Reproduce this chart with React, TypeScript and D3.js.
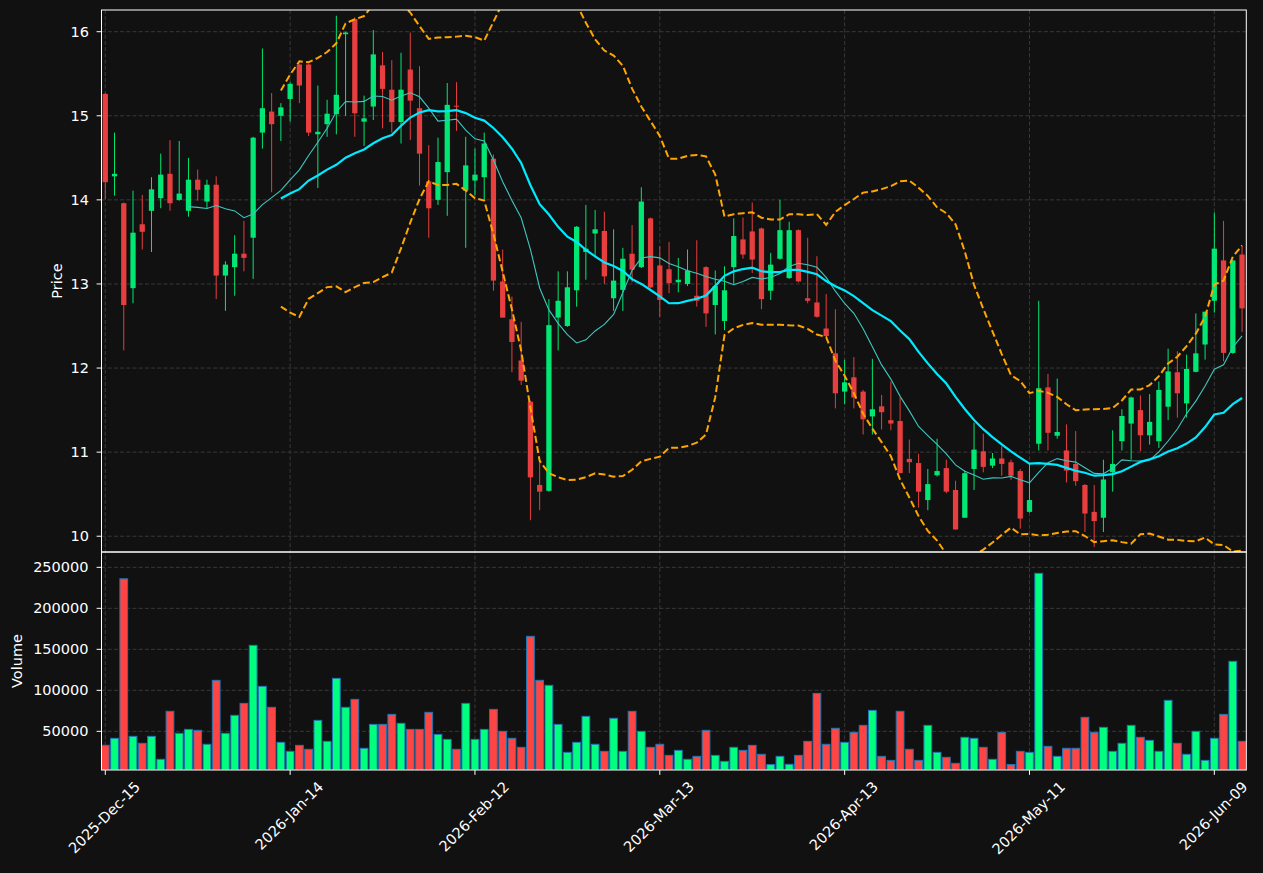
import React from 'react';
import * as d3 from 'd3';

const opens = [15.26,14.28,13.96,12.95,13.71,13.87,14.02,14.31,14.00,13.87,14.24,13.98,14.18,13.10,13.20,13.36,13.55,14.80,15.05,15.00,
15.20,15.61,15.61,14.78,14.90,15.02,15.97,16.15,14.93,15.11,15.60,15.31,14.925,15.55,15.09,14.22,14.00,14.33,15.12,14.11,
14.23,14.27,14.49,13.03,12.58,12.09,11.60,10.61,10.54,12.60,12.50,12.925,13.38,13.60,13.63,12.83,12.93,13.36,13.20,13.78,
13.22,13.175,13.02,13.00,12.86,13.20,12.75,12.56,13.20,13.53,13.625,13.66,12.92,13.30,13.07,13.64,12.83,12.78,12.47,12.175,
11.72,11.89,11.72,11.425,11.545,11.38,11.37,10.92,10.87,10.43,10.725,10.81,10.55,10.22,10.80,11.01,10.84,10.925,10.88,10.775,
10.29,11.10,11.77,11.195,11.02,10.86,10.61,10.29,10.22,10.76,11.13,11.34,11.50,11.20,11.13,11.54,11.95,11.58,11.955,12.28,
12.80,13.28,12.18,13.35];
const highs = [15.27,14.80,13.97,14.11,14.06,14.27,14.55,14.71,14.70,14.50,14.36,14.24,14.28,13.27,13.58,13.75,14.75,15.80,15.27,15.15,
15.40,15.62,15.62,15.36,15.19,16.19,16.00,16.17,15.24,16.02,15.76,15.66,15.75,15.99,15.59,14.65,14.74,15.39,15.40,14.75,
14.61,14.80,14.54,13.41,12.85,12.55,11.61,10.90,12.82,13.15,13.15,13.69,13.94,13.88,13.86,13.65,13.43,13.70,14.15,13.79,
13.45,13.50,13.31,13.41,13.52,13.21,13.16,13.21,13.78,13.79,13.97,13.67,13.37,14.00,13.74,13.65,13.55,13.33,12.88,12.70,
12.10,12.13,11.74,12.11,11.68,11.84,11.65,11.15,10.98,10.80,11.16,10.91,10.66,10.78,11.35,11.22,10.99,11.07,10.91,10.80,
10.86,12.80,11.93,11.875,11.33,11.25,10.62,10.61,10.91,11.26,11.51,11.66,11.675,11.69,11.84,12.23,12.20,12.16,12.65,12.67,
13.85,13.75,13.29,13.45];
const lows = [14.01,14.05,12.21,12.77,13.41,13.38,13.90,13.87,13.99,13.80,13.99,13.90,12.82,12.68,12.86,13.15,13.06,14.61,14.09,14.70,
14.93,15.15,14.76,14.14,14.75,14.78,15.00,14.75,14.64,14.95,14.85,14.80,14.67,14.71,14.17,13.55,13.94,13.81,14.82,13.43,
14.05,14.00,12.92,12.60,11.95,11.80,10.19,10.31,10.53,12.21,12.49,12.73,13.05,13.32,13.00,12.68,12.68,13.02,13.19,12.95,
12.61,12.89,12.90,12.975,12.73,12.49,12.40,12.45,13.00,13.30,13.13,12.70,12.81,13.29,13.06,13.02,12.77,12.60,12.37,11.52,
11.57,11.52,11.21,11.21,11.27,11.26,10.75,10.75,10.34,10.31,10.71,10.51,10.08,10.22,10.55,10.76,10.81,10.72,10.67,10.09,
10.28,11.02,11.02,11.16,10.64,10.60,10.05,9.87,10.05,10.53,11.02,10.91,11.01,11.09,11.05,11.38,11.41,11.41,11.95,12.10,
12.66,12.08,12.17,12.43];
const closes = [14.21,14.31,12.75,13.61,13.62,14.125,14.30,13.96,14.075,14.24,14.12,14.18,13.10,13.23,13.36,13.31,14.74,15.09,14.90,15.10,
15.38,15.36,14.80,14.81,15.025,15.25,15.99,15.03,14.97,15.73,15.32,14.925,15.31,15.18,14.55,13.90,14.45,15.13,15.11,14.41,
14.30,14.67,13.04,12.60,12.31,11.85,10.70,10.53,12.51,12.80,12.96,13.68,13.42,13.65,13.09,13.04,13.30,13.17,13.98,12.96,
12.81,13.01,13.05,13.16,12.80,12.65,12.975,12.925,13.57,13.35,13.29,12.82,13.23,13.64,13.64,13.03,12.80,12.61,12.38,11.70,
11.83,11.65,11.39,11.51,11.475,11.34,10.75,10.88,10.53,10.62,10.775,10.53,10.08,10.75,11.03,10.825,10.925,10.86,10.72,10.21,
10.43,11.76,11.23,11.24,10.78,10.655,10.27,10.18,10.675,10.86,11.43,11.65,11.20,11.36,11.74,11.96,11.70,11.99,12.175,12.67,
13.42,12.18,13.28,12.71];
const volumes = [33000,41500,236000,43900,35400,43900,15900,74400,47600,52400,51200,34200,112200,47600,69500,84100,154900,104900,79300,36600,
25600,32900,28100,63400,37800,114600,79300,89000,29300,58500,58500,70700,59800,52400,52400,73200,46300,40200,28100,84100,
40200,52400,76800,50000,41500,30500,165900,112200,106100,58500,24400,36600,68300,34200,25600,65900,25600,74400,50000,30500,
34200,20700,26800,15900,19500,51200,20700,13400,30500,26800,32900,22000,9500,19500,9800,20700,37800,96300,34200,53700,
36600,48800,57300,75600,19500,14600,74400,28100,14600,57300,24400,18300,11000,42700,41500,30500,15900,48800,9500,25600,
24400,242700,31700,19500,29300,29300,67100,48800,54900,25600,35400,57300,42700,39000,25600,87800,35400,22000,50000,14600,
41500,70700,135400,37800];

const tickIndex = [0, 20, 40, 60, 80, 100, 120];
const tickLabels = ['2025-Dec-15', '2026-Jan-14', '2026-Feb-12', '2026-Mar-13', '2026-Apr-13', '2026-May-11', '2026-Jun-09'];
const priceTicks = [10, 11, 12, 13, 14, 15, 16];
const volumeTicks = [50000, 100000, 150000, 200000, 250000];

const W = 1263, H = 873;
const L = 101.5, R = 1246.3, PT = 10, PB = 552, VB = 770;
const FONT = 'DejaVu Sans';
const FS = 14.5;
const UP = '#00ff7f', DOWN = '#ff4444';
const BG = '#111111';

function sma(vals: number[], n: number): (number | null)[] {
  return vals.map((_, i) => {
    if (i < n - 1) return null;
    let s = 0;
    for (let k = i - n + 1; k <= i; k++) s += vals[k];
    return s / n;
  });
}
function band(vals: number[], n: number, k: number, sign: number): (number | null)[] {
  return vals.map((_, i) => {
    if (i < n - 1) return null;
    let s = 0;
    for (let j = i - n + 1; j <= i; j++) s += vals[j];
    const m = s / n;
    let v = 0;
    for (let j = i - n + 1; j <= i; j++) v += (vals[j] - m) ** 2;
    return m + sign * k * Math.sqrt(v / n);
  });
}

function measure(text: string): number {
  const c = document.createElement('canvas').getContext('2d');
  if (!c) return text.length * FS * 0.6;
  c.font = `${FS}px "${FONT}"`;
  return c.measureText(text).width;
}

export default function App() {
  const x = d3.scaleLinear().domain([-0.41, 123.46]).range([L, R]);
  const yP = d3.scaleLinear().domain([9.8125, 16.258]).range([PB, PT]);
  const yV = d3.scaleLinear().domain([2850, 268700]).range([VB, PB]);
  const step = x(1) - x(0);
  const bodyW = step * 0.57;
  const volW = step * 0.84;

  const ma10 = sma(closes, 10);
  const ma20 = sma(closes, 20);
  const bbU = band(closes, 20, 2, 1);
  const bbL = band(closes, 20, 2, -1);
  const line = d3.line<number | null>()
    .defined((d) => d !== null)
    .x((_, i) => x(i))
    .y((d) => yP(d as number));

  const asc = FS * 0.76, desc = FS * 0.24;

  return (
    <svg width={W} height={H} style={{ position: 'absolute', left: 0, top: 0, background: BG }} fontFamily={FONT}>
      <defs>
        <clipPath id="pclip"><rect x={L} y={PT} width={R - L} height={PB - PT} /></clipPath>
        <clipPath id="vclip"><rect x={L} y={PB} width={R - L} height={VB - PB} /></clipPath>
      </defs>
      <rect x={0} y={0} width={W} height={H} fill={BG} />
      {/* grid */}
      <g stroke="#3d3d3d" strokeWidth={0.9} strokeDasharray="4,2.2">
        {tickIndex.map((t) => (
          <line key={'gx' + t} x1={x(t)} x2={x(t)} y1={PT} y2={VB} />
        ))}
        {priceTicks.map((t) => (
          <line key={'gp' + t} x1={L} x2={R} y1={yP(t)} y2={yP(t)} />
        ))}
        {volumeTicks.map((t) => (
          <line key={'gv' + t} x1={L} x2={R} y1={yV(t)} y2={yV(t)} />
        ))}
      </g>
      {/* volume */}
      <g clipPath="url(#vclip)">
        {volumes.map((v, i) => (
          <rect key={'v' + i} x={x(i) - volW / 2} y={yV(v)} width={volW} height={VB - yV(v)}
            fill={closes[i] >= opens[i] ? UP : DOWN} stroke="#1f77b4" strokeWidth={1} />
        ))}
      </g>
      {/* candles */}
      <g clipPath="url(#pclip)">
        {opens.map((o, i) => {
          const c = closes[i];
          const col = c >= o ? UP : DOWN;
          const top = yP(Math.max(o, c));
          const bot = yP(Math.min(o, c));
          return (
            <g key={'c' + i} opacity={0.9}>
              <line x1={x(i)} x2={x(i)} y1={yP(highs[i])} y2={yP(lows[i])} stroke={col} strokeWidth={1} />
              <rect x={x(i) - bodyW / 2} y={top} width={bodyW} height={Math.max(1, bot - top)} fill={col} />
            </g>
          );
        })}
        <path d={line(ma10) || ''} fill="none" stroke="#3cc8c0" strokeWidth={1.1} />
        <path d={line(ma20) || ''} fill="none" stroke="#00eaff" strokeWidth={2.2} />
        <path d={line(bbU) || ''} fill="none" stroke="#ffa500" strokeWidth={2} strokeDasharray="7,3.3" />
        <path d={line(bbL) || ''} fill="none" stroke="#ffa500" strokeWidth={2} strokeDasharray="7,3.3" />
      </g>
      {/* spines */}
      <g fill="none" stroke="#ffffff" strokeWidth={1}>
        <rect x={L} y={PT} width={R - L} height={PB - PT} />
        <rect x={L} y={PB} width={R - L} height={VB - PB} />
      </g>
      {/* ticks and labels */}
      <g fill="#ffffff" fontSize={FS}>
        {priceTicks.map((t) => (
          <g key={'pt' + t}>
            <line x1={L - 4.9} x2={L} y1={yP(t)} y2={yP(t)} stroke="#ffffff" strokeWidth={1} />
            <text x={89} y={yP(t)} dy="0.35em" textAnchor="end">{t}</text>
          </g>
        ))}
        {volumeTicks.map((t) => (
          <g key={'vt' + t}>
            <line x1={L - 4.9} x2={L} y1={yV(t)} y2={yV(t)} stroke="#ffffff" strokeWidth={1} />
            <text x={88.5} y={yV(t)} dy="0.35em" textAnchor="end">{t}</text>
          </g>
        ))}
        {tickIndex.map((t, k) => {
          const len = measure(tickLabels[k]);
          const X = x(t) - 0.3536 * (len + desc - asc);
          const Y = 780 + 0.7071 * (len + asc);
          return (
            <g key={'xt' + t}>
              <line x1={x(t)} x2={x(t)} y1={VB} y2={VB + 4.9} stroke="#ffffff" strokeWidth={1} />
              <text transform={`translate(${X},${Y}) rotate(-45)`}>{tickLabels[k]}</text>
            </g>
          );
        })}
        <text transform={`translate(57,${(PT + PB) / 2}) rotate(-90)`} textAnchor="middle" dy="0.35em">Price</text>
        <text transform={`translate(17,${(PB + VB) / 2}) rotate(-90)`} textAnchor="middle" dy="0.35em">Volume</text>
      </g>
    </svg>
  );
}
